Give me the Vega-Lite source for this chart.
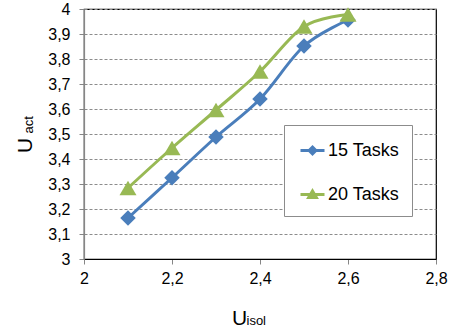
{
  "$schema": "https://vega.github.io/schema/vega-lite/v6.json",
  "width": 352,
  "height": 250,
  "autosize": "none",
  "padding": {"left": 84, "top": 9, "right": 18, "bottom": 68},
  "background": "white",
  "config": {
    "font": "Liberation Sans",
    "view": {"stroke": "black", "strokeWidth": 1.2}
  },
  "data": {
    "values": [
      {"series": "15 Tasks", "x": 2.1, "y": 3.164},
      {"series": "15 Tasks", "x": 2.2, "y": 3.325},
      {"series": "15 Tasks", "x": 2.3, "y": 3.488},
      {"series": "15 Tasks", "x": 2.4, "y": 3.64},
      {"series": "15 Tasks", "x": 2.5, "y": 3.852},
      {"series": "15 Tasks", "x": 2.6, "y": 3.956},
      {"series": "20 Tasks", "x": 2.1, "y": 3.284},
      {"series": "20 Tasks", "x": 2.2, "y": 3.444},
      {"series": "20 Tasks", "x": 2.3, "y": 3.596},
      {"series": "20 Tasks", "x": 2.4, "y": 3.75},
      {"series": "20 Tasks", "x": 2.5, "y": 3.93},
      {"series": "20 Tasks", "x": 2.6, "y": 3.978}
    ]
  },
  "encoding": {
    "color": {
      "field": "series",
      "type": "nominal",
      "scale": {"domain": ["15 Tasks", "20 Tasks"], "range": ["#4A7EBB", "#98B954"]},
      "legend": {
        "title": null,
        "orient": "none",
        "legendX": 200,
        "legendY": 116,
        "padding": 12,
        "strokeColor": "#8c8c8c",
        "fillColor": "white",
        "labelFontSize": 18,
        "labelFont": "Liberation Sans",
        "labelColor": "black",
        "labelOffset": 2,
        "symbolOffset": 3,
        "rowPadding": 21,
        "symbolSize": 576,
        "symbolStrokeWidth": 3,
        "encode": {
          "symbols": {
            "update": {
              "shape": {"signal": "datum.value === '15 Tasks' ? 'M-1,0H1M0,-0.28L0.28,0L0,0.28L-0.28,0Z' : 'M-1,0H1M0,-0.3L0.32,0.25L-0.32,0.25Z'"},
              "fill": {"signal": "scale('color', datum.value)"},
              "stroke": {"signal": "scale('color', datum.value)"},
              "strokeWidth": {"value": 3},
              "opacity": {"value": 1}
            }
          }
        }
      }
    }
  },
  "layer": [
    {
      "transform": [{"filter": "datum.series === '15 Tasks'"}],
      "encoding": {
        "x": {
          "field": "x", "type": "quantitative",
          "scale": {"domain": [2, 2.8], "nice": false, "zero": false},
          "axis": {
            "values": [2, 2.2, 2.4, 2.6, 2.8],
            "labelExpr": "replace(format(datum.value, '~g'), '.', ',')",
            "labelFlush": false,
            "grid": false,
            "domainColor": "black",
            "domainWidth": 1.2,
            "tickColor": "#868686",
            "tickSize": 5,
            "labelFontSize": 16,
            "labelColor": "black",
            "labelPadding": 6,
            "title": "U",
            "titleFontSize": 21,
            "titleFontWeight": "normal",
            "titleColor": "black",
            "titleX": 155,
            "titleY": 65,
            "titleAlign": "center",
            "titleBaseline": "alphabetic"
          }
        },
        "y": {
          "field": "y", "type": "quantitative",
          "scale": {"domain": [3, 4], "nice": false, "zero": false},
          "axis": {
            "values": [3, 3.1, 3.2, 3.3, 3.4, 3.5, 3.6, 3.7, 3.8, 3.9, 4],
            "labelExpr": "replace(format(datum.value, '~g'), '.', ',')",
            "labelFlush": false,
            "grid": true,
            "gridColor": "#8c8c8c",
            "gridDash": [3, 2],
            "gridWidth": 1,
            "domainColor": "#868686",
            "domainWidth": 1.2,
            "tickColor": "#868686",
            "tickSize": 5,
            "labelFontSize": 16,
            "labelColor": "black",
            "labelPadding": 9,
            "title": "U",
            "titleFontSize": 21,
            "titleFontWeight": "normal",
            "titleColor": "black",
            "titleAngle": -90,
            "titleX": -53,
            "titleY": 136,
            "titleAlign": "center",
            "titleBaseline": "alphabetic"
          }
        }
      },
      "layer": [
        {"mark": {"type": "line", "interpolate": "cardinal", "strokeWidth": 3}},
        {"mark": {"type": "point", "shape": "diamond", "filled": true, "size": 240, "opacity": 1}}
      ]
    },
    {
      "transform": [{"filter": "datum.series === '20 Tasks'"}],
      "encoding": {
        "x": {
          "field": "x", "type": "quantitative",
          "scale": {"domain": [2, 2.8], "nice": false, "zero": false},
          "axis": {
            "orient": "bottom",
            "labels": false,
            "ticks": false,
            "domain": false,
            "grid": false,
            "title": "isol",
            "titleFontSize": 13,
            "titleFontWeight": "normal",
            "titleColor": "black",
            "titleX": 162,
            "titleY": 65,
            "titleAlign": "left",
            "titleBaseline": "alphabetic"
          }
        },
        "y": {
          "field": "y", "type": "quantitative",
          "scale": {"domain": [3, 4], "nice": false, "zero": false},
          "axis": {
            "orient": "left",
            "labels": false,
            "ticks": false,
            "domain": false,
            "grid": false,
            "title": "act",
            "titleFontSize": 13,
            "titleFontWeight": "normal",
            "titleColor": "black",
            "titleAngle": -90,
            "titleX": -52,
            "titleY": 124,
            "titleAlign": "left",
            "titleBaseline": "alphabetic"
          }
        }
      },
      "layer": [
        {"mark": {"type": "line", "interpolate": "cardinal", "strokeWidth": 3}},
        {"mark": {"type": "point", "shape": "triangle-up", "filled": true, "size": 289, "opacity": 1}}
      ]
    }
  ],
  "resolve": {"scale": {"x": "independent", "y": "independent"}}
}
